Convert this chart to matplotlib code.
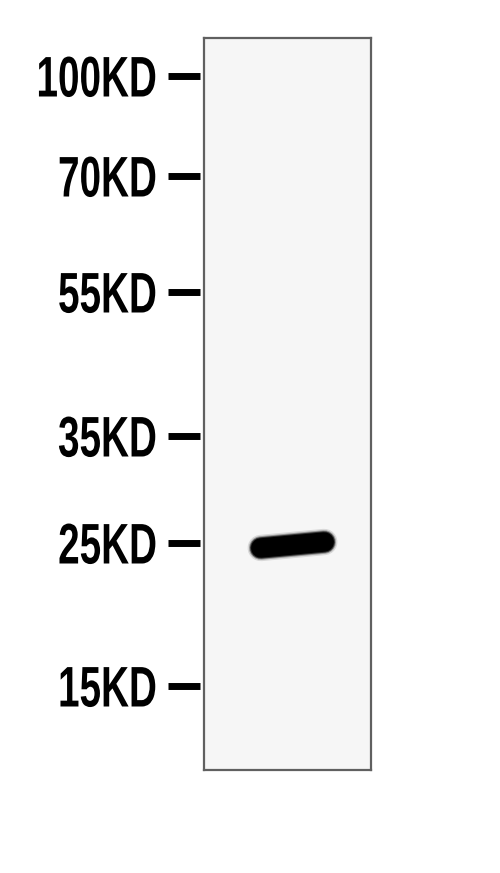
import matplotlib
matplotlib.use('Agg')
import matplotlib.pyplot as plt
import matplotlib.transforms as mtransforms
from matplotlib.patheffects import AbstractPathEffect

# marker ladder (label, vertical position in pixels from top of image)
marker_labels = ['100KD', '70KD', '55KD', '35KD', '25KD', '15KD']
marker_pos = [76, 176, 292, 436, 543, 686]

# detected band: left end / right end (x in lane units, y in pixels)
band_x = [0.34, 0.72]
band_y = [548, 542]


class Squeeze(AbstractPathEffect):
    # condensed, taller glyphs: scale around a fixed display point
    def __init__(self, sx, sy, x0, y0):
        super().__init__()
        self.sx, self.sy = sx, sy
        self.x0, self.y0 = x0, y0

    def draw_path(self, renderer, gc, tpath, affine, rgbFace=None):
        sq = (mtransforms.Affine2D().translate(-self.x0, -self.y0)
              .scale(self.sx, self.sy).translate(self.x0, self.y0))
        renderer.draw_path(gc, tpath, affine + sq, rgbFace)


plt.rcParams['font.family'] = ['Liberation Sans', 'DejaVu Sans']

fig = plt.figure(figsize=(5, 8.73), dpi=100)
fig.patch.set_facecolor('white')
W, H = 500, 873
ax = fig.add_axes([204 / W, (H - 770) / H, 167 / W, 732 / H])
ax.set_facecolor('#f6f6f6')
ax.set_xlim(0, 1)
ax.set_ylim(770, 38)
ax.set_xticks([])
ax.set_yticks([])
for s in ax.spines.values():
    s.set_color('#606060')
    s.set_linewidth(1.6)

# band, with a soft halo
for lw, a in [(19, 0.12), (17, 0.3), (15.5, 0.65), (14, 1.0)]:
    ax.plot(band_x, band_y, color='black', lw=lw, alpha=a,
            solid_capstyle='round')

# ladder ticks and labels
trans = mtransforms.blended_transform_factory(fig.transFigure, ax.transData)
fs = 32                       # points
cap = 0.716 * fs * 100 / 72   # cap height in px before stretching
sy = 41 / cap
sx = 0.87
lab_trans = mtransforms.offset_copy(trans, fig=fig, y=-20.5, units='dots')
for lab, y in zip(marker_labels, marker_pos):
    ax.plot([168 / W, 200 / W], [y, y], color='black', lw=5,
            transform=trans, clip_on=False, solid_capstyle='butt')
    y0 = H - y - 20.5
    ax.text(157 / W, y, lab, transform=lab_trans, ha='right', va='baseline',
            fontsize=fs, fontweight='bold', color='black',
            path_effects=[Squeeze(sx, sy, 157, y0)])

plt.savefig('out.png', dpi=100, facecolor='white')
